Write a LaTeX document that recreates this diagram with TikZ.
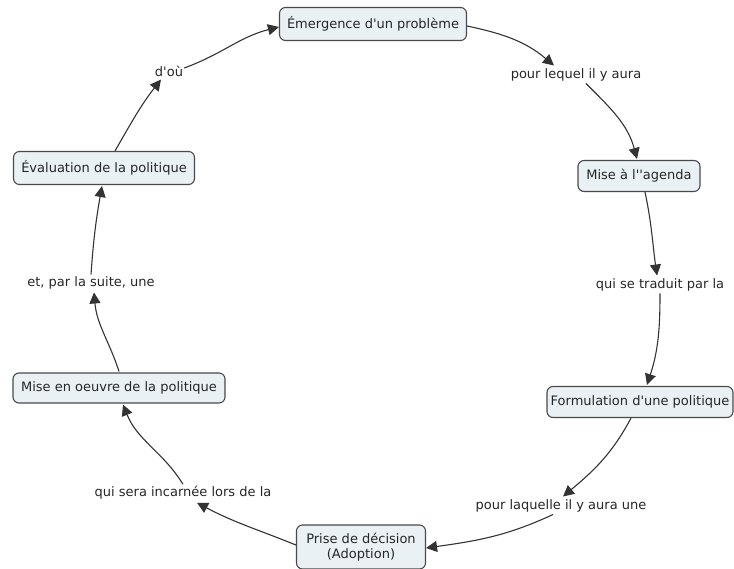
\documentclass[tikz,border=0pt]{standalone}
\usepackage{fontspec}
\setmainfont{DejaVu Sans}[Ligatures=TeXOff]
\usetikzlibrary{arrows.meta}
\definecolor{boxfill}{HTML}{EAF1F5}
\definecolor{boxline}{HTML}{4A4A4A}
\definecolor{lnk}{HTML}{333333}
\tikzset{
  concept/.style={draw=boxline, fill=boxfill, rounded corners=6pt, line width=1.1pt,
    inner xsep=0pt, inner ysep=0pt, align=center, font=\fontsize{13}{15.5}\selectfont, text=black!85},
  linklabel/.style={inner sep=1pt, font=\fontsize{13}{15.5}\selectfont, text=black!85},
  arr/.style={draw=lnk, line width=1.1pt, -{Triangle[length=11pt,width=11pt]}}
}
\begin{document}
\begin{tikzpicture}[x=1pt,y=1pt]
\useasboundingbox (0,0) rectangle (734,-569);
% concepts
\node[concept, minimum width=187, minimum height=33] (emerg) at (373,-24) {Émergence d'un problème};
\node[concept, minimum width=122, minimum height=31] (agenda) at (639,-176) {Mise à l''agenda};
\node[concept, minimum width=186, minimum height=31] (formul) at (640,-402) {Formulation d'une politique};
\node[concept, minimum width=129, minimum height=44] (prise) at (361,-547) {Prise de décision\\(Adoption)};
\node[concept, minimum width=212, minimum height=30] (oeuvre) at (119,-388) {Mise en oeuvre de la politique};
\node[concept, minimum width=181, minimum height=33] (evalu) at (104,-168) {Évaluation de la politique};
% link labels
\node[linklabel] (l1) at (576,-75) {pour lequel il y aura};
\node[linklabel] (l2) at (660,-285) {qui se traduit par la};
\node[linklabel] (l3) at (561,-506) {pour laquelle il y aura une};
\node[linklabel] (l4) at (183,-493) {qui sera incarnée lors de la};
\node[linklabel] (l5) at (91,-283) {et, par la suite, une};
\node[linklabel] (l6) at (169,-71) {d'où};
% connectors
\draw[arr] ([yshift=-2]emerg.east) to[out=-12,in=140] ([xshift=-22,yshift=2]l1.north);
\draw[arr] ([xshift=10,yshift=-1]l1.south) to[out=-45,in=105] ([xshift=-2,yshift=1]agenda.north);
\draw[arr] ([xshift=6]agenda.south) to[out=-78,in=98] ([xshift=-3,yshift=2]l2.north);
\draw[arr] ([yshift=-1]l2.south) to[out=-90,in=72] ([xshift=7,yshift=1]formul.north);
\draw[arr] ([xshift=-9]formul.south) to[out=-118,in=40] ([xshift=2,yshift=2]l3.north);
\draw[arr] ([xshift=-8,yshift=-1]l3.south) to[out=-155,in=8] ([yshift=-1]prise.east);
\draw[arr] ([yshift=2]prise.west) to[out=158,in=-28] ([xshift=14,yshift=-2]l4.south);
\draw[arr] ([yshift=1]l4.north) to[out=122,in=-68] ([xshift=4,yshift=-1]oeuvre.south);
\draw[arr] ([yshift=1]oeuvre.north) to[out=108,in=-85] ([xshift=3,yshift=-2]l5.south);
\draw[arr] ([yshift=1]l5.north) to[out=86,in=-100] ([xshift=-2,yshift=-1]evalu.south);
\draw[arr] ([xshift=11]evalu.north) to[out=60,in=-128] ([xshift=-8,yshift=-2]l6.south);
\draw[arr] ([yshift=3]l6.east) to[out=20,in=-166] ([yshift=-3]emerg.west);
\end{tikzpicture}
\end{document}
